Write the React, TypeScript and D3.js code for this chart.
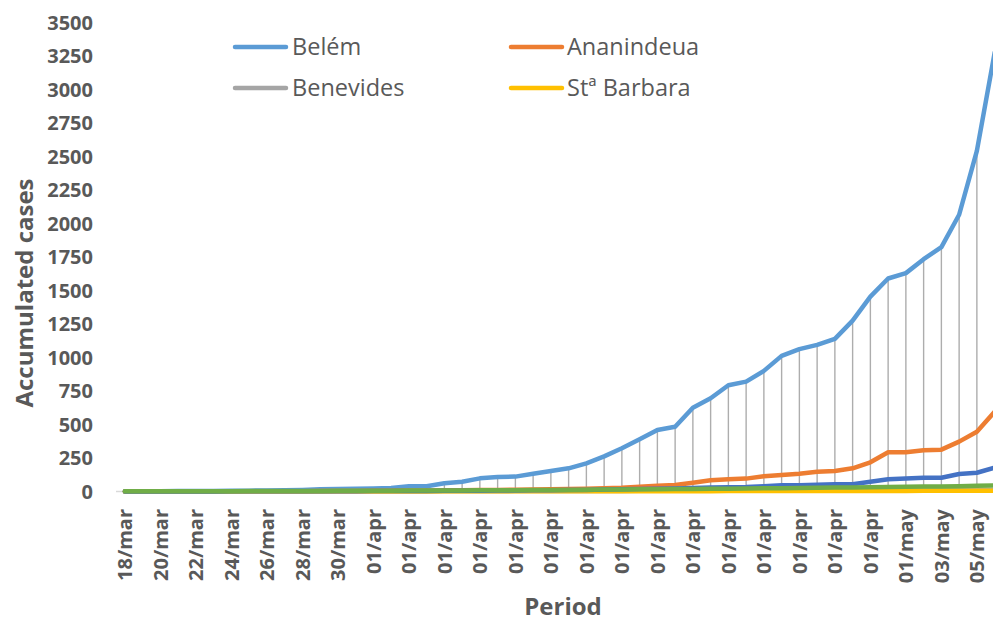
import React from "react";
import * as d3 from "d3";

const tickLabels = [
  "18/mar", "20/mar", "22/mar", "24/mar", "26/mar", "28/mar", "30/mar",
  "01/apr", "01/apr", "01/apr", "01/apr", "01/apr", "01/apr", "01/apr", "01/apr",
  "01/apr", "01/apr", "01/apr", "01/apr", "01/apr", "01/apr", "01/apr",
  "01/may", "03/may", "05/may",
];

const belem = [
  1, 2, 2, 3, 4, 4, 5, 6, 8, 10, 12, 16, 19, 21, 23, 27, 39, 39, 61, 73,
  98, 108, 111, 133, 153, 173, 210, 262, 322, 389, 459, 483, 625, 695, 792, 819,
  899, 1011, 1061, 1093, 1138, 1274, 1453, 1588, 1628, 1732, 1822, 2063, 2540, 3270,
];
const ananindeua = [
  0, 0, 0, 0, 1, 1, 1, 1, 1, 2, 2, 3, 3, 4, 5, 6, 7, 8, 9, 10,
  11, 12, 13, 14, 16, 18, 21, 25, 28, 36, 43, 48, 66, 84, 91, 96,
  113, 123, 132, 148, 153, 173, 218, 292, 292, 307, 312, 372, 446, 595,
];
const benevides = [
  0, 0, 0, 0, 0, 0, 0, 0, 0, 0, 0, 1, 1, 1, 1, 1, 1, 2, 2, 2,
  2, 2, 3, 3, 3, 3, 4, 4, 4, 5, 5, 5, 6, 6, 6, 7, 7, 7, 8, 8,
  8, 9, 9, 9, 10, 10, 10, 11, 11, 12,
];
const staBarbara = [
  0, 0, 0, 0, 0, 0, 0, 0, 0, 0, 0, 0, 0, 0, 0, 0, 0, 0, 1, 1,
  1, 1, 1, 1, 1, 1, 1, 2, 2, 2, 2, 2, 2, 2, 3, 3, 3, 3, 3, 3,
  4, 4, 4, 4, 4, 5, 5, 5, 5, 6,
];
const series5 = [
  0, 0, 0, 0, 0, 0, 1, 1, 1, 1, 1, 2, 2, 2, 3, 3, 4, 4, 5, 5,
  6, 7, 8, 9, 10, 11, 12, 14, 16, 18, 20, 22, 26, 30, 32, 34,
  39, 46, 46, 51, 54, 54, 73, 91, 96, 103, 103, 131, 140, 178,
];
const series6 = [
  1, 1, 1, 1, 2, 2, 2, 3, 3, 3, 4, 4, 5, 5, 6, 6, 7, 7, 8, 8,
  9, 9, 10, 11, 12, 12, 13, 14, 15, 16, 17, 18, 19, 20, 21, 22,
  24, 25, 27, 28, 29, 30, 32, 34, 35, 37, 38, 40, 42, 45,
];

const yTicks = [0, 250, 500, 750, 1000, 1250, 1500, 1750, 2000, 2250, 2500, 2750, 3000, 3250, 3500];

const seriesList = [
  { name: "Belém", values: belem, color: "#5B9BD5", legend: true },
  { name: "Ananindeua", values: ananindeua, color: "#ED7D31", legend: true },
  { name: "Benevides", values: benevides, color: "#A5A5A5", legend: true },
  { name: "Stª Barbara", values: staBarbara, color: "#FFC000", legend: true },
  { name: "Series5", values: series5, color: "#4472C4", legend: false },
  { name: "Series6", values: series6, color: "#70AD47", legend: false },
];

const W = 993;
const H = 621;
const FONT = "'Open Sans', 'Noto Sans', sans-serif";
const TXT = "#595959";

export default function App() {
  const n = belem.length;
  const idx = d3.range(n);
  const x = d3.scaleBand<number>().domain(idx).range([116, 116 + n * 17.75]).padding(0);
  const cx = (i: number) => (x(i) as number) + x.bandwidth() / 2;
  const y = d3.scaleLinear().domain([0, 3500]).range([491.5, 22]);

  const line = d3
    .line<number>()
    .x((_, i) => cx(i))
    .y((d) => y(d));

  const legendItems = seriesList.filter((s) => s.legend);
  const legendPos = [
    { lx: 235, ly: 47, tx: 292, ty: 55 },
    { lx: 511, ly: 47, tx: 567, ty: 55 },
    { lx: 235, ly: 88, tx: 292, ty: 96 },
    { lx: 511, ly: 88, tx: 567, ty: 96 },
  ];

  return (
    <svg
      width={W}
      height={H}
      style={{ position: "absolute", left: 0, top: 0, background: "#fff" }}
      fontFamily={FONT}
    >
      <rect x={0} y={0} width={W} height={H} fill="#fff" />
      <line x1={116} x2={W} y1={y(0)} y2={y(0)} stroke="#D9D9D9" strokeWidth={1.5} />
      {idx.map((i) => {
        const vals = seriesList.map((s) => s.values[i]);
        const hi = d3.max(vals) as number;
        const lo = d3.min(vals) as number;
        return (
          <line
            key={"hl" + i}
            x1={cx(i)}
            x2={cx(i)}
            y1={y(hi)}
            y2={y(lo)}
            stroke="#ADADAD"
            strokeWidth={1.4}
          />
        );
      })}
      {seriesList.map((s) => (
        <path
          key={s.name}
          d={line(s.values) || ""}
          fill="none"
          stroke={s.color}
          strokeWidth={4.5}
          strokeLinejoin="round"
          strokeLinecap="round"
        />
      ))}
      {yTicks.map((t) => (
        <text
          key={"yt" + t}
          x={93}
          y={y(t)}
          textAnchor="end"
          dominantBaseline="central"
          fontSize={20}
          fontWeight="bold"
          fill={TXT}
        >
          {t}
        </text>
      ))}
      {tickLabels.map((lab, k) => {
        const px = cx(k * 2);
        return (
          <text
            key={"xt" + k}
            transform={`translate(${px},509) rotate(-90)`}
            textAnchor="end"
            dominantBaseline="central"
            fontSize={20}
            fontWeight="bold"
            fill={TXT}
          >
            {lab}
          </text>
        );
      })}
      <text
        transform={`translate(33,293) rotate(-90)`}
        textAnchor="middle"
        fontSize={24}
        fontWeight="bold"
        fill={TXT}
      >
        Accumulated cases
      </text>
      <text x={563} y={615} textAnchor="middle" fontSize={24} fontWeight="bold" fill={TXT}>
        Period
      </text>
      {legendItems.map((s, k) => {
        const p = legendPos[k];
        return (
          <g key={"lg" + s.name}>
            <line x1={p.lx} x2={p.lx + 51} y1={p.ly} y2={p.ly} stroke={s.color} strokeWidth={4.5} strokeLinecap="round" />
            <text x={p.tx} y={p.ty} fontSize={23.5} fill={TXT}>
              {s.name}
            </text>
          </g>
        );
      })}
    </svg>
  );
}
